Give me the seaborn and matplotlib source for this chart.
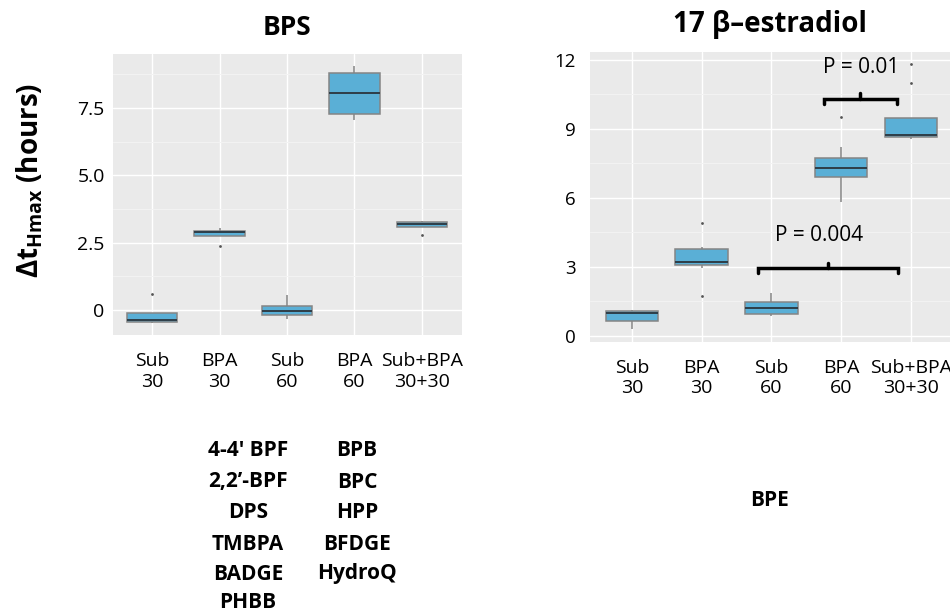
import matplotlib
matplotlib.use("Agg")
import matplotlib.pyplot as plt
from matplotlib.ticker import AutoMinorLocator
import seaborn as sns
import pandas as pd

# categories on the x axis
groups = ["Sub\n30", "BPA\n30", "Sub\n60", "BPA\n60", "Sub+BPA\n30+30"]

bps_vals = [
    [-0.47, -0.45, -0.43, -0.40, -0.38, -0.25, -0.12, -0.12, 0.59],
    [2.39, 2.74, 2.74, 2.80, 2.89, 2.92, 2.95, 3.00, 3.04],
    [-0.33, -0.25, -0.17, -0.10, -0.03, 0.05, 0.16, 0.30, 0.56],
    [7.04, 7.15, 7.29, 7.70, 8.06, 8.45, 8.80, 8.95, 9.05],
    [2.78, 3.08, 3.08, 3.15, 3.20, 3.23, 3.26, 3.29, 3.32],
]

e2_vals = [
    [0.28, 0.50, 0.64, 0.85, 0.97, 1.02, 1.07, 1.10, 1.12],
    [1.73, 2.95, 3.06, 3.12, 3.19, 3.50, 3.76, 3.85, 4.92],
    [0.86, 0.90, 0.94, 1.05, 1.19, 1.30, 1.45, 1.60, 1.85],
    [5.83, 6.60, 6.90, 7.10, 7.29, 7.50, 7.72, 8.20, 9.53],
    [8.56, 8.60, 8.62, 8.70, 8.75, 9.10, 9.46, 10.99, 11.82],
]

bps_ticks = [0, 2.5, 5, 7.5]
bps_ticklabels = ["0", "2.5", "5.0", "7.5"]
e2_ticks = [0, 3, 6, 9, 12]

# significance brackets on the right panel
p_labels = ["P = 0.01", "P = 0.004"]
p_x0 = [2.75, 1.81]
p_x1 = [3.80, 3.82]
p_y = [10.29, 2.93]
p_text_x = [3.29, 2.68]
p_text_y = [11.68, 4.35]

# compounds listed under the panels
col1 = ["4-4' BPF", "2,2\u2019-BPF", "DPS", "TMBPA", "BADGE", "PHBB"]
col2 = ["BPB", "BPC", "HPP", "BFDGE", "HydroQ"]
col3 = ["BPE"]


def to_long(vals):
    rows = []
    for g, lst in zip(groups, vals):
        for v in lst:
            rows.append((g, v))
    return pd.DataFrame(rows, columns=["group", "value"])


sns.set_style("darkgrid", {"axes.facecolor": "#EAEAEA", "grid.color": "white",
                           "text.color": "black", "xtick.color": "black",
                           "ytick.color": "black", "axes.labelcolor": "black"})
plt.rcParams["font.family"] = ["Open Sans", "DejaVu Sans"]
plt.rcParams["mathtext.fontset"] = "custom"
plt.rcParams["mathtext.bf"] = "Open Sans:bold"
plt.rcParams["mathtext.rm"] = "Open Sans"

fig = plt.figure(figsize=(9.5, 6.16), dpi=100)
ax1 = fig.add_axes([0.119, 0.456, 0.367, 0.456])
ax2 = fig.add_axes([0.621, 0.445, 0.379, 0.471])

box_kw = dict(
    x="group", y="value", color="#5AAFD6", saturation=1, width=0.75,
    linewidth=1.1, linecolor="#858585", fliersize=2, showcaps=False,
    medianprops={"color": "#2E3D48", "linewidth": 1.4},
    flierprops={"marker": "o", "markerfacecolor": "#555555", "markeredgecolor": "none"},
)

sns.boxplot(data=to_long(bps_vals), ax=ax1, **box_kw)
sns.boxplot(data=to_long(e2_vals), ax=ax2, **box_kw)

for ax in (ax1, ax2):
    ax.set_xlabel("")
    ax.set_ylabel("")
    ax.yaxis.set_minor_locator(AutoMinorLocator(2))
    ax.grid(which="major", color="white", linewidth=1.0)
    ax.grid(which="minor", axis="y", color="#F3F3F3", linewidth=0.7)
    ax.set_axisbelow(True)
    ax.tick_params(length=0, which="both")
    ax.tick_params(axis="x", pad=12, labelsize=14)
    for s in ax.spines.values():
        s.set_visible(False)

ax1.set_xlim(-0.58, 4.59)
ax1.set_ylim(-0.93, 9.5)
ax1.set_yticks(bps_ticks)
ax1.set_yticklabels(bps_ticklabels)
ax1.tick_params(axis="y", labelsize=14, pad=6)
ax1.set_title("BPS", fontsize=19, fontweight="bold", pad=14)

ax2.set_xlim(-0.6, 4.56)
ax2.set_ylim(-0.27, 12.35)
ax2.set_yticks(e2_ticks)
ax2.tick_params(axis="y", labelsize=13.5, pad=10)
ax2.set_title("17 \u03b2\u2013estradiol", fontsize=20, fontweight="bold", pad=14)

for lab, x0, x1, y, tx, ty in zip(p_labels, p_x0, p_x1, p_y, p_text_x, p_text_y):
    xm = (x0 + x1) / 2
    ax2.plot([x0, x0, x1, x1], [y - 0.22, y, y, y - 0.22], color="black", lw=2.5,
             solid_joinstyle="miter", clip_on=False)
    ax2.plot([xm, xm], [y, y + 0.25], color="black", lw=2.5)
    ax2.text(tx, ty, lab, ha="center", va="center", fontsize=15)

fig.text(30 / 950, 1 - 180 / 616, r"$\mathbf{\Delta t_{Hmax}}$ (hours)",
         rotation=90, ha="center", va="center", fontsize=20, fontweight="bold")

line_y = [450, 482, 512, 544, 574, 603]
for i, t in enumerate(col1):
    fig.text(248 / 950, 1 - line_y[i] / 616, t, ha="center", va="center",
             fontsize=15, fontweight="bold")
for i, t in enumerate(col2):
    fig.text(357 / 950, 1 - line_y[i] / 616, t, ha="center", va="center",
             fontsize=15, fontweight="bold")
fig.text(770 / 950, 1 - 500 / 616, col3[0], ha="center", va="center",
         fontsize=15, fontweight="bold")

fig.savefig("out.png", dpi=100)
